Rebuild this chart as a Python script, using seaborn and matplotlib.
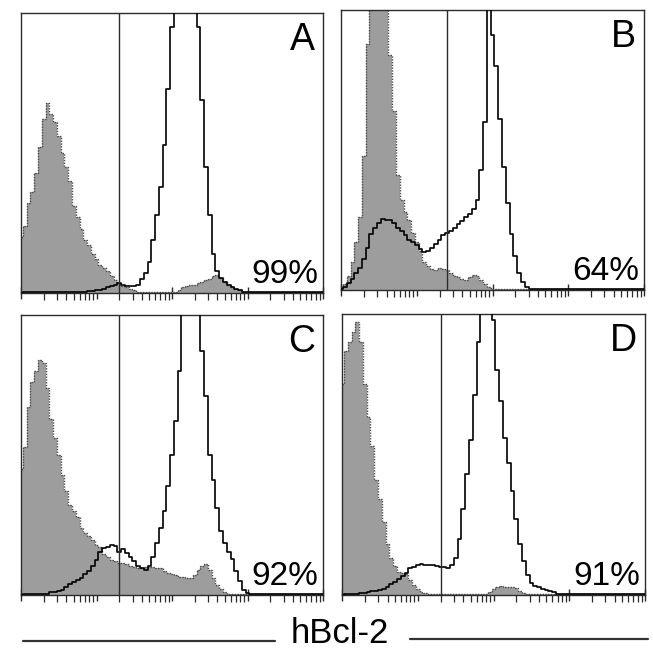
import numpy as np
import pandas as pd
import matplotlib.pyplot as plt
from matplotlib.lines import Line2D
from matplotlib.ticker import LogLocator, NullFormatter, NullLocator
import seaborn as sns

sns.set_style("white")
plt.rcParams["font.family"] = ["Liberation Sans", "DejaVu Sans"]

# -----------------------------
# data: histogram heights
# (0-100 = full panel height, >100 is cut off by the frame)
# -----------------------------
log_channel = np.linspace(0, 4, 81)   # log10 fluorescence, 0.05 decade steps

panels = ["A", "B", "C", "D"]
percent_labels = ["99%", "64%", "92%", "91%"]
gate_positions = [20, 25, 20, 20]

control_a = [20, 24, 32, 36, 43, 52, 62, 68, 64, 61,
             56, 50, 45, 40, 31, 27, 23, 19, 17, 14,
             12, 10, 9, 8, 6, 4.5, 3.5, 2.5, 2, 1.5,
             1, 0.5, 0.5, 0.5, 0.5, 0.5, 0.5, 0.5, 0.5, 0.5,
             0.5, 0.5, 1, 2, 2.5, 3, 3, 3.5, 4, 4.5,
             5, 6, 6.5, 5.5, 4, 3, 2, 1.5, 1, 0.5,
             0.3, 0.3, 0.3, 0.3, 0.3, 0.3, 0.3, 0.3, 0.3, 0.3,
             0.3, 0.3, 0.3, 0.3, 0.3, 0.3, 0.3, 0.3, 0.3, 0.3, 0.3]
stain_a = [0, 0.5, 0.5, 0.5, 0.5, 0.5, 0.5, 0.5, 0.5, 0.5,
           0.5, 0.5, 0.5, 0.5, 0.5, 0.5, 0.5, 0.5, 0.7, 0.8,
           1, 1, 1.5, 2, 2.5, 3, 3.5, 3, 2.5, 2.5,
           2.5, 3, 5, 7, 11, 19, 28, 38, 53, 73,
           95, 125, 150, 150, 150, 150, 130, 95, 69, 45,
           28, 14, 8, 5.5, 4, 3, 2, 1.5, 1, 0.5,
           0.5, 0.5, 0.5, 0.5, 0.5, 0.5, 0.5, 0.5, 0.5, 0.5,
           0.5, 0.5, 0.5, 0.5, 0.5, 0.5, 0.5, 0.5, 0.5, 0.5, 0.5]

control_b = [0.5, 2, 5, 10, 17, 26, 48, 88, 105, 130,
             140, 130, 102, 84, 64, 41, 32, 28, 25, 20.5,
             17, 14, 10, 8.5, 7.5, 7, 8, 7.5, 7, 6,
             5, 4.5, 4, 3.5, 4.5, 5.5, 5, 3.5, 2, 1.2,
             0.5, 0.3, 0.3, 0.3, 0.3, 0.3, 0.3, 0.3, 0.3, 0.3,
             0.3, 0.3, 0.3, 0.3, 0.3, 0.3, 0.3, 0.3, 0.3, 0.3,
             0.3, 0.3, 0.3, 0.3, 0.3, 0.3, 0.3, 0.3, 0.3, 0.3,
             0.3, 0.3, 0.3, 0.3, 0.3, 0.3, 0.3, 0.3, 0.3, 0.3, 0.3]
stain_b = [0.3, 1.2, 2.5, 4, 6, 8, 11, 15, 20, 22,
           24, 25.5, 25, 25, 24, 22, 21, 19.5, 18, 17,
           16, 14.5, 13.5, 14, 15, 16.5, 18, 19.5, 20.5, 21,
           22, 23.5, 24.5, 26, 27, 29, 32, 43, 60, 102,
           91, 80, 61, 44, 31, 20, 12, 6, 3, 1.2,
           0.5, 0.3, 0.3, 0.3, 0.3, 0.3, 0.3, 0.3, 0.3, 0.3,
           0.3, 0.3, 0.3, 0.3, 0.3, 0.3, 0.3, 0.3, 0.3, 0.3,
           0.3, 0.3, 0.3, 0.3, 0.3, 0.3, 0.3, 0.3, 0.3, 0.3, 0.3]

control_c = [45, 53, 67, 76, 80, 84, 83, 74, 63, 56,
             50, 43, 37, 32, 30, 28, 24, 22, 21, 19.5,
             18, 17, 14.5, 13.5, 12.5, 12, 11.5, 11.3, 11, 10.5,
             10, 9.5, 9.5, 10, 10, 10, 9.5, 9.5, 8.5, 8,
             7.5, 7, 6.5, 6.3, 6, 6, 7, 9, 10.5, 11,
             9, 6, 3.5, 2, 1, 0.5, 0.3, 0.3, 0.3, 0.3,
             0.3, 0.3, 0.3, 0.3, 0.3, 0.3, 0.3, 0.3, 0.3, 0.3,
             0.3, 0.3, 0.3, 0.3, 0.3, 0.3, 0.3, 0.3, 0.3, 0.3, 0.3]
stain_c = [0, 0.5, 0.5, 0.5, 0.5, 0.5, 0.5, 0.5, 1, 1.2,
           1.5, 1.8, 2.8, 3.8, 4.5, 5.2, 6.2, 7.5, 8.7, 10.5,
           12.6, 15.2, 16.8, 17.2, 17.8, 17.5, 15.5, 16.5, 15, 13.5,
           12, 10.5, 9.5, 9, 10.5, 13.5, 18.5, 24, 30, 39,
           50, 62, 80, 102, 130, 140, 130, 102, 87, 71,
           50, 41, 31, 23, 18.5, 15.5, 12.7, 8.5, 5, 1.8,
           0.7, 0.4, 0.4, 0.4, 0.4, 0.4, 0.4, 0.4, 0.4, 0.4,
           0.4, 0.4, 0.4, 0.4, 0.4, 0.4, 0.4, 0.4, 0.4, 0.4, 0.4]

control_d = [75, 87, 90, 93.5, 97, 90, 75, 63.5, 53, 41,
             34, 26, 18, 13, 10.2, 8.3, 7.9, 7.6, 5.5, 3.5,
             2, 1.2, 0.8, 0.5, 0.5, 0.5, 0.5, 0.5, 0.5, 0.5,
             0.5, 0.5, 0.5, 0.5, 0.5, 0.5, 0.5, 0.5, 0.5, 1,
             2, 3, 3.2, 3, 3, 3, 2.5, 1.5, 0.8, 0.3,
             0.3, 0.3, 0.3, 0.3, 0.3, 0.3, 0.3, 0.3, 0.3, 0.3,
             0.3, 0.3, 0.3, 0.3, 0.3, 0.3, 0.3, 0.3, 0.3, 0.3,
             0.3, 0.3, 0.3, 0.3, 0.3, 0.3, 0.3, 0.3, 0.3, 0.3, 0.3]
stain_d = [0, 0.4, 0.4, 0.4, 0.4, 0.6, 0.8, 1.2, 1.4, 1.5,
           1.7, 2.2, 2.8, 3.8, 4.8, 5.8, 6.8, 8, 9.5, 10,
           10.8, 11.2, 10.8, 10.7, 10.6, 10.2, 10, 10, 9.6, 10.5,
           13, 20, 30.5, 43, 55, 71, 90, 105, 125, 110,
           98, 80, 69, 56, 47, 37, 27, 18, 12, 7,
           4.2, 3.2, 2.7, 2.1, 1.7, 1.3, 1, 0.5, 0.5, 0.5,
           0.5, 0.5, 0.5, 0.5, 0.5, 0.5, 0.5, 0.5, 0.5, 0.5,
           0.5, 0.5, 0.5, 0.5, 0.5, 0.5, 0.5, 0.5, 0.5, 0.5, 0.5]

controls = [control_a, control_b, control_c, control_d]
stains = [stain_a, stain_b, stain_c, stain_d]

# -----------------------------
# figure layout (pixel boxes on the 653x650 canvas)
# -----------------------------
W, H = 653, 650
boxes = [(21, 13, 323, 293), (341, 10, 644, 290),
         (21, 315, 323, 595), (342, 314, 645, 595)]

fig = plt.figure(figsize=(W / 100, H / 100), dpi=100)
frame_col = "#2b2b2b"

for i, (x0, y0, x1, y1) in enumerate(boxes):
    ax = fig.add_axes([x0 / W, 1 - y1 / H, (x1 - x0) / W, (y1 - y0) / H])
    df = pd.DataFrame({
        "fluorescence": 10 ** log_channel,
        "control": controls[i],
        "hbcl2": stains[i],
    })

    # control histogram: grey fill with dotted edge
    ax.fill_between(df["fluorescence"], 0, df["control"], step="mid",
                    color="#9d9d9d", lw=0, zorder=1)
    sns.lineplot(data=df, x="fluorescence", y="control", ax=ax,
                 color="#4a4a4a", lw=1.0, ls=(0, (1, 1)),
                 drawstyle="steps-mid", zorder=2)
    # hBcl-2 stained histogram: black outline
    sns.lineplot(data=df, x="fluorescence", y="hbcl2", ax=ax,
                 color="black", lw=1.2, drawstyle="steps-mid", zorder=3)

    # gate marker
    ax.axvline(gate_positions[i], color=frame_col, lw=1.0, zorder=4)

    ax.set_xscale("log")
    ax.set_xlim(1, 1e4)
    ax.set_ylim(0, 100)
    ax.set_xlabel("")
    ax.set_ylabel("")
    ax.yaxis.set_major_locator(NullLocator())
    ax.xaxis.set_major_locator(LogLocator(base=10, numticks=10))
    ax.xaxis.set_minor_locator(LogLocator(base=10, subs=np.arange(2, 10), numticks=20))
    ax.xaxis.set_major_formatter(NullFormatter())
    ax.xaxis.set_minor_formatter(NullFormatter())
    ax.tick_params(axis="x", which="major", direction="inout", length=9,
                   width=1.0, color=frame_col, bottom=True)
    ax.tick_params(axis="x", which="minor", direction="out", length=5,
                   width=0.9, color=frame_col, bottom=True)

    for side in ["left", "right", "top", "bottom"]:
        ax.spines[side].set_visible(True)
        ax.spines[side].set_color(frame_col)
        ax.spines[side].set_linewidth(1.0)

    ax.annotate(panels[i], xy=(1, 1), xycoords="axes fraction",
                xytext=(-8, -9), textcoords="offset pixels",
                ha="right", va="top", fontsize=27, color="black")
    ax.annotate(percent_labels[i], xy=(1, 0), xycoords="axes fraction",
                xytext=(-5, 10), textcoords="offset pixels",
                ha="right", va="baseline", fontsize=24, color="black")

# shared x label with rules on either side
fig.text(340 / W, 1 - 643 / H, "hBcl-2", ha="center", va="baseline",
         fontsize=25, color="black")
fig.add_artist(Line2D([23 / W, 275 / W], [1 - 641 / H, 1 - 641 / H],
                      color="#333333", lw=1.6))
fig.add_artist(Line2D([410 / W, 648 / W], [1 - 639 / H, 1 - 639 / H],
                      color="#333333", lw=1.6))

fig.savefig("out.png", dpi=100, facecolor="white")
